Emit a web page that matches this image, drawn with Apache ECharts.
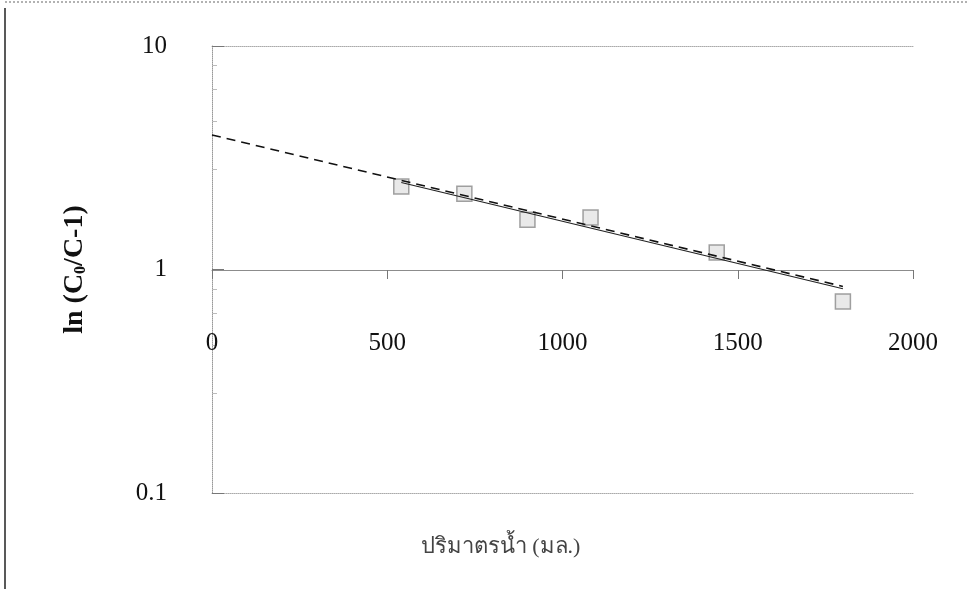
<!DOCTYPE html>
<html lang="th">
    <head>
        <meta charset="UTF-8" />
        <title>ln (C0/C-1) - ปริมาตรน้ำ</title>
        <style>
            * {
                box-sizing: border-box;
                margin: 0;
                padding: 0;
            }
            body {
                background: #fff;
            }
            #chart {
                width: 967px;
                height: 589px;
            }
        </style>
    </head>
    <body>
        <div id="chart"></div>
        <script src="https://cdn.jsdelivr.net/npm/echarts@6/dist/echarts.min.js"></script>
        <script>
            // ข้อมูลที่อ่านจากกราฟ
            var volume = [540, 720, 900, 1080, 1440, 1800] // มล.
            var lnRatio = [2.35, 2.18, 1.67, 1.71, 1.19, 0.72]

            // เส้นประ (ต่อไปถึง 0 มล.)
            var dashX = [0, 1800]
            var dashY = [4.0, 0.84]

            // เส้นทึบ
            var solidX = [540, 1800]
            var solidY = [2.45, 0.82]

            var xTicks = [0, 500, 1000, 1500, 2000]
            var yTicks = [0.1, 1, 10]

            var serif = 'Liberation Serif, Times New Roman, serif'

            var chart = echarts.init(document.getElementById('chart'))

            function pairs(xs, ys) {
                return xs.map(function (x, i) {
                    return [x, ys[i]]
                })
            }

            chart.setOption({
                animation: false,
                backgroundColor: '#fff',
                grid: {
                    left: 212,
                    right: 54,
                    top: 46,
                    bottom: 96,
                    outerBoundsMode: 'none'
                },
                xAxis: [
                    {
                        // แกนหลัก วางที่ y = 1
                        type: 'value',
                        position: 'bottom',
                        offset: -223,
                        min: xTicks[0],
                        max: xTicks[xTicks.length - 1],
                        interval: 500,
                        name: 'ปริมาตรน้ำ (มล.)',
                        nameLocation: 'middle',
                        nameGap: 266,
                        nameTextStyle: {
                            fontFamily: serif,
                            fontSize: 22,
                            color: '#444',
                            padding: [0, 124, 0, 0]
                        },
                        axisLine: {
                            lineStyle: { color: '#8c8c8c', width: 1 }
                        },
                        axisTick: {
                            length: 9,
                            lineStyle: { color: '#777' }
                        },
                        axisLabel: {
                            margin: 61,
                            fontFamily: serif,
                            fontSize: 25,
                            color: '#111',
                            formatter: function (v) {
                                return String(v)
                            }
                        },
                        splitLine: { show: false }
                    },
                    {
                        // ขอบบนแบบจุด
                        type: 'value',
                        position: 'top',
                        min: 0,
                        max: 2000,
                        axisLine: {
                            lineStyle: { color: '#aaa', type: 'dotted' }
                        },
                        axisTick: { show: false },
                        axisLabel: { show: false },
                        splitLine: { show: false }
                    },
                    {
                        // ขอบล่างแบบจุด
                        type: 'value',
                        position: 'bottom',
                        offset: 0,
                        min: 0,
                        max: 2000,
                        axisLine: {
                            lineStyle: { color: '#aaa', type: 'dotted' }
                        },
                        axisTick: { show: false },
                        axisLabel: { show: false },
                        splitLine: { show: false }
                    }
                ],
                yAxis: {
                    type: 'log',
                    logBase: 10,
                    min: yTicks[0],
                    max: yTicks[yTicks.length - 1],
                    name: 'ln (C{sub|0}/C-1)',
                    nameLocation: 'middle',
                    nameRotate: 90,
                    nameGap: 123,
                    nameTextStyle: {
                        fontFamily: serif,
                        fontSize: 28,
                        fontWeight: 'bold',
                        color: '#111',
                        rich: {
                            sub: {
                                fontFamily: serif,
                                fontSize: 16,
                                fontWeight: 'bold',
                                color: '#111',
                                verticalAlign: 'bottom',
                                padding: [12, 0, 0, 0]
                            }
                        }
                    },
                    axisLine: {
                        show: true,
                        lineStyle: { color: '#999', type: 'dotted' }
                    },
                    axisTick: {
                        inside: true,
                        length: 12,
                        lineStyle: { color: '#777' }
                    },
                    minorTick: {
                        show: true,
                        splitNumber: 5,
                        length: 5,
                        lineStyle: { color: '#bbb' }
                    },
                    axisLabel: {
                        margin: 45,
                        fontFamily: serif,
                        fontSize: 25,
                        color: '#111',
                        formatter: function (v) {
                            return String(v)
                        }
                    },
                    splitLine: { show: false }
                },
                series: [
                    {
                        type: 'line',
                        name: 'dash',
                        data: pairs(dashX, dashY),
                        symbol: 'none',
                        lineStyle: {
                            color: '#111',
                            width: 1.6,
                            type: [9, 6]
                        },
                        z: 3
                    },
                    {
                        type: 'line',
                        name: 'solid',
                        data: pairs(solidX, solidY),
                        symbol: 'none',
                        lineStyle: {
                            color: '#222',
                            width: 1.2
                        },
                        z: 3
                    },
                    {
                        type: 'scatter',
                        name: 'data',
                        data: pairs(volume, lnRatio),
                        symbol: 'rect',
                        symbolSize: 15,
                        itemStyle: {
                            color: '#e4e4e4',
                            borderColor: '#8a8a8a',
                            borderWidth: 1.5
                        },
                        z: 2
                    }
                ],
                graphic: [
                    {
                        // เส้นขอบซ้ายของหน้า
                        type: 'line',
                        shape: { x1: 5, y1: 8, x2: 5, y2: 589 },
                        style: { stroke: '#222', lineWidth: 1.5 }
                    },
                    {
                        type: 'line',
                        shape: { x1: 5, y1: 2, x2: 967, y2: 2 },
                        style: { stroke: '#666', lineWidth: 1, lineDash: [2, 2] }
                    }
                ]
            })
        </script>
    </body>
</html>
